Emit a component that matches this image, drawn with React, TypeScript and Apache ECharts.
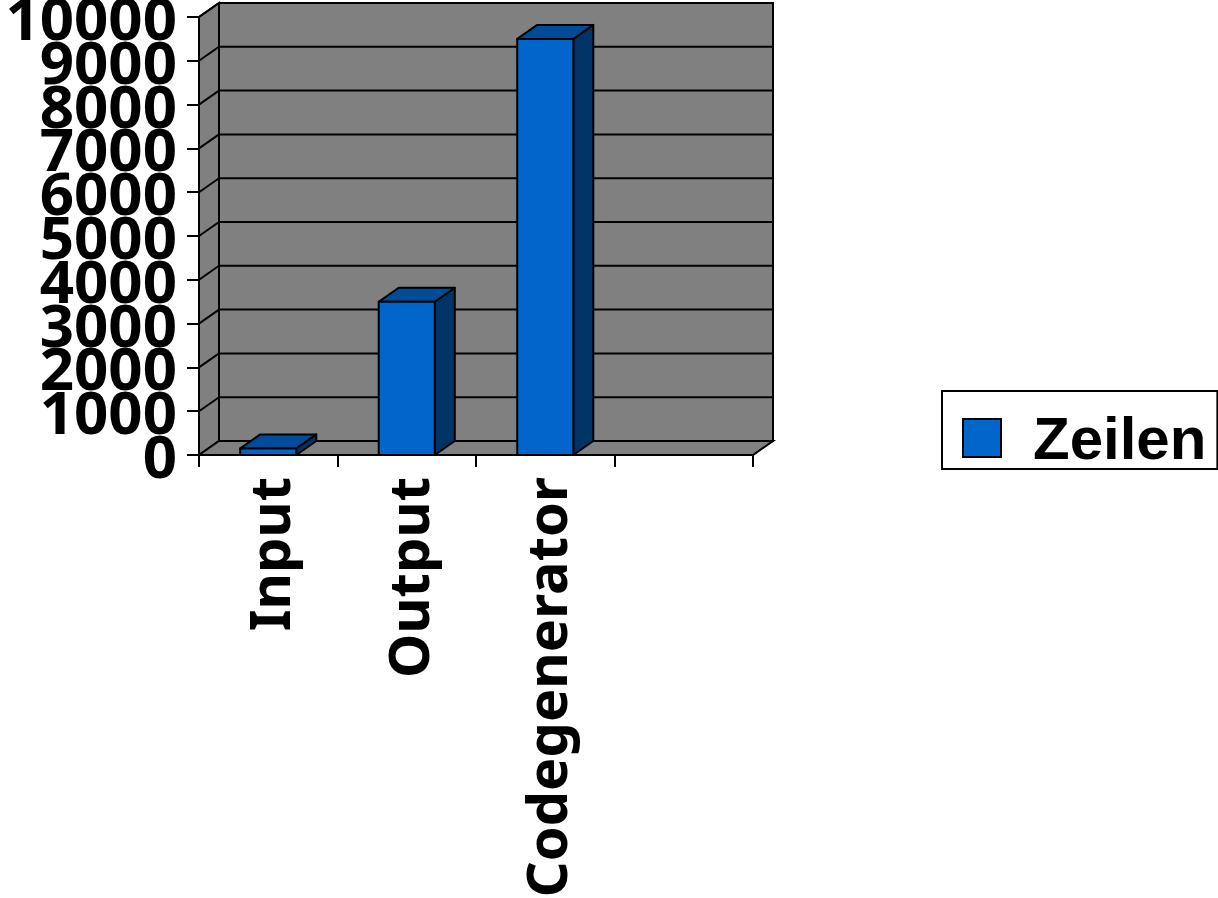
import React, { useEffect, useRef } from "react";
import * as echarts from "echarts";

const categories = ["Input", "Output", "Codegenerator", " "];
const zeilen = [150, 3500, 9500];
const yTicks = [0, 1000, 2000, 3000, 4000, 5000, 6000, 7000, 8000, 9000, 10000];
const yEndTicks = [0, 10000];

const DX = 20;
const DY = -14;
const LINE = "#000000";

function renderWall(params: any, api: any) {
  const v = api.value(1);
  const band = api.size([1, 0])[0];
  const xl = api.coord([0, v])[0] - band / 2;
  const xr = api.coord([3, v])[0] + band / 2;
  const y = api.coord([0, v])[1];
  const children: any[] = [];
  if (params.dataIndex === 0) {
    const top = api.coord([0, yTicks[yTicks.length - 1]])[1];
    const wallStyle = { fill: "#808080", stroke: LINE, lineWidth: 2 };
    children.push({
      type: "polygon",
      shape: { points: [[xl, y], [xl + DX, y + DY], [xl + DX, top + DY], [xl, top]] },
      style: wallStyle,
    });
    children.push({
      type: "polygon",
      shape: { points: [[xl, y], [xr, y], [xr + DX, y + DY], [xl + DX, y + DY]] },
      style: wallStyle,
    });
    children.push({
      type: "rect",
      shape: { x: xl + DX, y: top + DY, width: xr - xl, height: y - top },
      style: wallStyle,
    });
  } else {
    children.push({
      type: "line",
      shape: { x1: xl, y1: y, x2: xl + DX, y2: y + DY },
      style: { stroke: LINE, lineWidth: 2 },
    });
  }
  children.push({
    type: "line",
    shape: { x1: xl + DX, y1: y + DY, x2: xr + DX, y2: y + DY },
    style: { stroke: LINE, lineWidth: 2 },
  });
  return { type: "group", children };
}

function renderBar(_params: any, api: any) {
  const band = api.size([1, 0])[0];
  const w = band * 0.405;
  const c = api.coord([api.value(0), api.value(1)]);
  const base = api.coord([api.value(0), 0])[1];
  const x1 = c[0] - w / 2;
  const x2 = c[0] + w / 2;
  const t = c[1];
  const edge = { stroke: LINE, lineWidth: 2, lineJoin: "round" };
  return {
    type: "group",
    children: [
      {
        type: "polygon",
        shape: { points: [[x2, t], [x2 + DX, t + DY], [x2 + DX, base + DY], [x2, base]] },
        style: { fill: "#003366", ...edge },
      },
      {
        type: "polygon",
        shape: { points: [[x1, t], [x1 + DX, t + DY], [x2 + DX, t + DY], [x2, t]] },
        style: { fill: "#004c99", ...edge },
      },
      {
        type: "rect",
        shape: { x: x1, y: t, width: w, height: base - t },
        style: { fill: "#0066cc", ...edge },
      },
    ],
  };
}

const yLabelStyle = {
  margin: 22,
  formatter: (v: number) => String(v),
  fontFamily: "Noto Sans",
  fontWeight: "bold",
  fontSize: 60,
  padding: [8, 0, 0, 0],
  color: "#000",
};

export default function App() {
  const ref = useRef<HTMLDivElement>(null);
  useEffect(() => {
    const chart = echarts.init(ref.current!, undefined, { renderer: "svg" });
    chart.setOption({
      animation: false,
      backgroundColor: "#ffffff",
      grid: { left: 199, top: 17, width: 554, height: 438, containLabel: false, outerBoundsMode: "none" },
      legend: {
        show: true,
        left: 942,
        top: 391,
        data: [{ name: "Zeilen", icon: "rect" }],
        orient: "vertical",
        padding: [17, 11, 1, 20],
        borderColor: LINE,
        borderWidth: 2,
        itemWidth: 38,
        itemHeight: 38,
        textStyle: {
          fontFamily: "Liberation Sans",
          fontWeight: "bold",
          fontSize: 60,
          lineHeight: 58,
          color: "#000",
          padding: [0, 0, 0, 27],
        },
      },
      xAxis: {
        type: "category",
        data: categories,
        z: 5,
        axisLine: { show: true, lineStyle: { color: LINE, width: 2 } },
        axisTick: { show: true, length: 12, alignWithLabel: false, lineStyle: { color: LINE, width: 2 } },
        splitLine: { show: false },
        axisLabel: {
          interval: 0,
          rotate: 90,
          margin: 22,
          padding: [4, 0, 0, 0],
          fontFamily: "Noto Sans",
          fontWeight: "bold",
          fontSize: 56,
          color: "#000",
        },
      },
      yAxis: [
        {
          type: "value",
          position: "left",
          min: 0,
          max: 10000,
          interval: 1000,
          z: 5,
          axisLine: { show: true, onZero: false, lineStyle: { color: LINE, width: 2 } },
          axisTick: { show: true, length: 12, lineStyle: { color: LINE, width: 2 } },
          splitLine: { show: false },
          axisLabel: { ...yLabelStyle, showMinLabel: false, showMaxLabel: false },
        },
        {
          type: "value",
          position: "left",
          min: 0,
          max: 10000,
          interval: 10000,
          z: 5,
          axisLine: { show: false, onZero: false },
          axisTick: { show: true, length: 12, lineStyle: { color: LINE, width: 2 } },
          splitLine: { show: false },
          axisLabel: { ...yLabelStyle, customValues: yEndTicks },
        },
      ],
      series: [
        {
          type: "custom",
          name: "Wände",
          coordinateSystem: "cartesian2d",
          renderItem: renderWall,
          clip: false,
          silent: true,
          z: 1,
          encode: { x: 0, y: 1 },
          data: yTicks.map((v) => [0, v]),
        },
        {
          type: "custom",
          name: "Zeilen",
          coordinateSystem: "cartesian2d",
          renderItem: renderBar,
          clip: false,
          z: 2,
          encode: { x: 0, y: 1 },
          itemStyle: { color: "#0066cc", borderColor: LINE, borderWidth: 2 },
          data: zeilen.map((v, i) => [i, v]),
        },
      ],
    });
    return () => chart.dispose();
  }, []);
  return (
    <div
      ref={ref}
      style={{ position: "absolute", left: 0, top: 0, width: 1218, height: 898 }}
    />
  );
}
